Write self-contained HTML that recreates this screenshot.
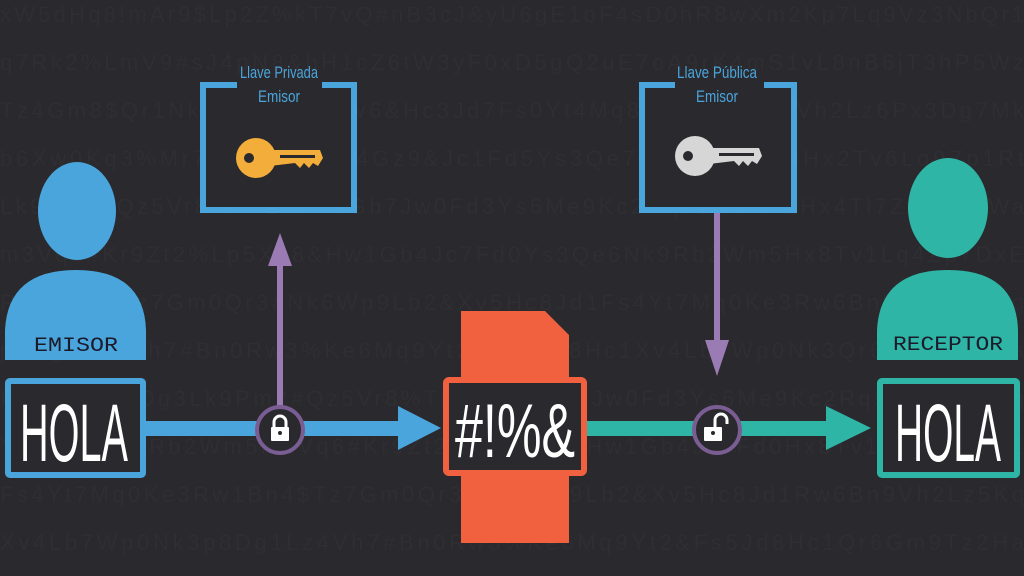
<!DOCTYPE html>
<html><head><meta charset="utf-8"><style>
html,body{margin:0;padding:0;background:#2a292d;}
svg{display:block}
</style></head><body>
<svg width="1024" height="576" viewBox="0 0 1024 576" xmlns="http://www.w3.org/2000/svg" font-family="Liberation Sans, sans-serif">
<rect width="1024" height="576" fill="#2a292d"/>
<g fill="#2f2e33" font-size="22" font-family="Liberation Sans Narrow, Liberation Sans, sans-serif" lengthAdjust="spacingAndGlyphs">
<text x="0" y="22" textLength="1024">xW5dHq8!mAr9$Lp2Z%kT7vQ#nB3cJ&amp;yU6gE1oF4sD0hR8wXm2Kp7Lq9Vz3NbQr1</text>
<text x="0" y="70" textLength="1024">q7Rk2%LmV9#sJ4pN8&amp;bH1cZ6tW3yF0xD5gQ2uE7oA9rK4mS1vL8nB6jT3hP5Wz</text>
<text x="0" y="118" textLength="1024">Tz4Gm8$Qr1Nk5#Wp9Lb2Xv6&amp;Hc3Jd7Fs0Yt4Mq8Ke1Rw5Bn9Vh2Lz6Px3Dg7Mk</text>
<text x="0" y="166" textLength="1024">b6Xw0Kq3%Mr7Tn2#Vh8Lp4Gz9&amp;Jc1Fd5Ys3Qe7Nk0Rb4Wm8Hx2Tv6Lq9Zp1Rt</text>
<text x="0" y="214" textLength="1024">Lk9Pm2#Qz5Vr8%Tn1Xh4&amp;Gb7Jw0Fd3Ys6Me9Kc2Rq5Bn8Wv1Hx4Tl7Zp0Dg3Wa</text>
<text x="0" y="262" textLength="1024">m3Vq6#Kr9Zt2%Lp5Xn8&amp;Hw1Gb4Jc7Fd0Ys3Qe6Nk9Rb2Wm5Hx8Tv1Lq4Zp7DxE</text>
<text x="0" y="310" textLength="1024">Rw1Bn4$Tz7Gm0Qr3#Nk6Wp9Lb2&amp;Xv5Hc8Jd1Fs4Yt7Mq0Ke3Rw6Bn9Vh2Lz5Kq</text>
<text x="0" y="358" textLength="1024">p8Dg1Lz4Vh7#Bn0Rw3%Ke6Mq9Yt2&amp;Fs5Jd8Hc1Xv4Lb7Wp0Nk3Qr6Gm9Tz2Ha</text>
<text x="0" y="406" textLength="1024">Hx4Tl7Zp0Dg3Lk9Pm2#Qz5Vr8%Tn1Xh4&amp;Gb7Jw0Fd3Ys6Me9Kc2Rq5Bn8Wv1Pq</text>
<text x="0" y="454" textLength="1024">Ys3Qe6Nk9Rb2Wm5m3Vq6#Kr9Zt2%Lp5Xn8&amp;Hw1Gb4Jc7Fd0Hx8Tv1Lq4Zp7DxE</text>
<text x="0" y="502" textLength="1024">Fs4Yt7Mq0Ke3Rw1Bn4$Tz7Gm0Qr3#Nk6Wp9Lb2&amp;Xv5Hc8Jd1Rw6Bn9Vh2Lz5Kq</text>
<text x="0" y="550" textLength="1024">Xv4Lb7Wp0Nk3p8Dg1Lz4Vh7#Bn0Rw3%Ke6Mq9Yt2&amp;Fs5Jd8Hc1Qr6Gm9Tz2Ha</text>
</g>
<!-- Emisor person -->
<ellipse cx="77" cy="211" rx="39" ry="49" fill="#4aa5dc"/>
<path d="M5 360 L5 330 Q8 270 76 270 Q144 270 146 330 L146 360 Z" fill="#4aa5dc"/>
<text x="76" y="351" text-anchor="middle" font-family="Liberation Mono, monospace" font-size="20" fill="#1a1a2a" textLength="84" lengthAdjust="spacingAndGlyphs">EMISOR</text>
<rect x="8" y="381" width="135" height="94" fill="#2a292d" stroke="#4aa5dc" stroke-width="6" rx="2"/>
<text x="74" y="461" text-anchor="middle" font-size="82" font-family="Liberation Sans Narrow, Liberation Sans, sans-serif" fill="#fff" textLength="108" lengthAdjust="spacingAndGlyphs">HOLA</text>
<!-- Receptor person -->
<ellipse cx="948" cy="208" rx="40" ry="50" fill="#2fb5a5"/>
<path d="M877 360 L877 330 Q880 270 948 270 Q1016 270 1018 330 L1018 360 Z" fill="#2fb5a5"/>
<text x="948" y="350" text-anchor="middle" font-family="Liberation Mono, monospace" font-size="20" fill="#1a1a2a" textLength="110" lengthAdjust="spacingAndGlyphs">RECEPTOR</text>
<rect x="880" y="381" width="137" height="94" fill="#2a292d" stroke="#2fb5a5" stroke-width="6" rx="2"/>
<text x="948" y="461" text-anchor="middle" font-size="82" font-family="Liberation Sans Narrow, Liberation Sans, sans-serif" fill="#fff" textLength="106" lengthAdjust="spacingAndGlyphs">HOLA</text>
<!-- blue arrow -->
<rect x="146" y="421" width="260" height="15" fill="#4aa5dc"/>
<polygon points="398,406 441,428 398,450" fill="#4aa5dc"/>
<!-- teal arrow -->
<rect x="587" y="421" width="245" height="15" fill="#2fb5a5"/>
<polygon points="826,406 871,428 826,450" fill="#2fb5a5"/>
<!-- key boxes -->
<path d="M237 85 L203 85 L203 210 L354 210 L354 85 L322 85" fill="none" stroke="#4aa5dc" stroke-width="6"/>
<rect x="206" y="88" width="145" height="119" fill="#2a292d"/>
<text x="279" y="78" text-anchor="middle" font-size="17" font-family="Liberation Sans Narrow, Liberation Sans, sans-serif" fill="#4aa5dc" textLength="78" lengthAdjust="spacingAndGlyphs">Llave Privada</text>
<text x="279" y="102" text-anchor="middle" font-size="17" font-family="Liberation Sans Narrow, Liberation Sans, sans-serif" fill="#4aa5dc" textLength="42" lengthAdjust="spacingAndGlyphs">Emisor</text>
<path d="M675 85 L642 85 L642 210 L794 210 L794 85 L764 85" fill="none" stroke="#4aa5dc" stroke-width="6"/>
<rect x="645" y="88" width="146" height="119" fill="#2a292d"/>
<text x="717" y="78" text-anchor="middle" font-size="17" font-family="Liberation Sans Narrow, Liberation Sans, sans-serif" fill="#4aa5dc" textLength="80" lengthAdjust="spacingAndGlyphs">Llave Pública</text>
<text x="717" y="102" text-anchor="middle" font-size="17" font-family="Liberation Sans Narrow, Liberation Sans, sans-serif" fill="#4aa5dc" textLength="42" lengthAdjust="spacingAndGlyphs">Emisor</text>
<!-- keys -->
<g fill="#f2ad3a">
<circle cx="256" cy="158" r="20"/>
<path d="M270 150 L320 150 L323 158 L318 166 L313 163 L309 168 L304 163 L300 168 L295 163 L270 166 Z"/>
</g>
<circle cx="249" cy="158" r="5" fill="#2a292d"/>
<rect x="280" y="155" width="35" height="3" fill="#2a292d"/>
<g fill="#d6d6d6">
<circle cx="695" cy="156" r="20"/>
<path d="M709 148 L759 148 L762 156 L757 164 L752 161 L748 166 L743 161 L739 166 L734 161 L709 164 Z"/>
</g>
<circle cx="688" cy="156" r="5" fill="#2a292d"/>
<rect x="719" y="153" width="35" height="3" fill="#2a292d"/>
<!-- purple arrows -->
<rect x="277" y="258" width="6" height="150" fill="#9b7bb3"/>
<polygon points="268,266 280,233 292,266" fill="#9b7bb3"/>
<rect x="714" y="213" width="6" height="135" fill="#9b7bb3"/>
<polygon points="705,340 717,376 729,340" fill="#9b7bb3"/>
<!-- locks -->
<circle cx="280" cy="430" r="23" fill="#2a292d" stroke="#7a5e93" stroke-width="4"/>
<path d="M274 428 V422 A6 6 0 0 1 286 422 V428" fill="none" stroke="#fff" stroke-width="3"/>
<rect x="271" y="427" width="18" height="14" fill="#fff" rx="1"/>
<circle cx="280" cy="433" r="2" fill="#2a292d"/>
<circle cx="717" cy="430" r="23" fill="#2a292d" stroke="#7a5e93" stroke-width="4"/>
<path d="M715 428 V420 A6 6 0 0 1 727 420 V424" fill="none" stroke="#fff" stroke-width="3"/>
<rect x="704" y="427" width="18" height="14" fill="#fff" rx="1"/>
<circle cx="713" cy="433" r="2" fill="#2a292d"/>
<!-- document -->
<path d="M461 311 L545 311 L569 335 L569 543 L461 543 Z" fill="#f2613f"/>
<rect x="446" y="380" width="138" height="93" fill="#2a292d" stroke="#f2613f" stroke-width="6" rx="3"/>
<text x="515" y="457" text-anchor="middle" font-size="76" font-family="Liberation Sans Narrow, Liberation Sans, sans-serif" fill="#fff" textLength="120" lengthAdjust="spacingAndGlyphs">#!%&amp;</text>
</svg>
</body></html>
